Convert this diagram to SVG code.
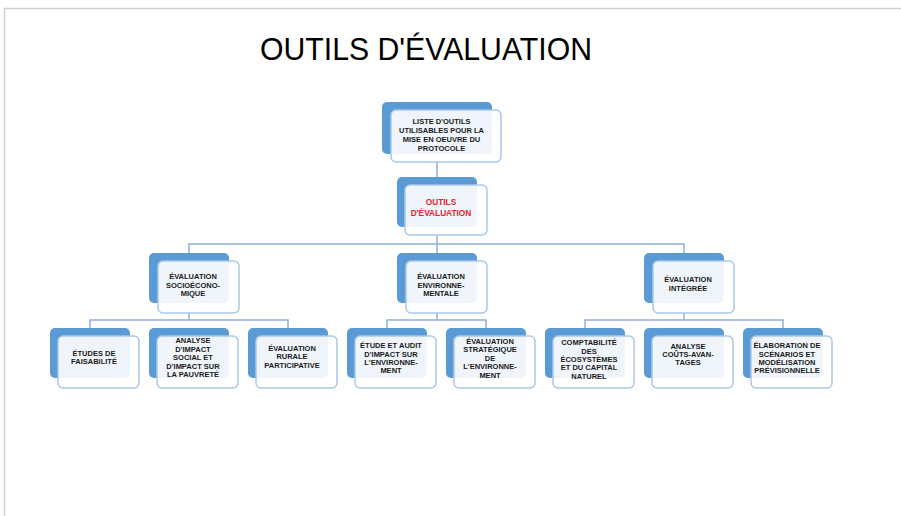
<svg xmlns="http://www.w3.org/2000/svg" width="901" height="516" viewBox="0 0 901 516">
<style>
.frame{stroke:#d0d0d0;stroke-width:1.5;fill:none}
.title{font-family:"Liberation Sans",Arial,sans-serif;font-size:31px;fill:#000}
.conn{stroke:#8eb0dc;stroke-width:1.5;fill:none}
.back{fill:#5b9bd5}
.front{fill:#ffffff;fill-opacity:0.9;stroke:#a9c8ea;stroke-width:1.5}
.t{font-family:"Liberation Sans",Arial,sans-serif;font-weight:bold;font-size:7.5px;fill:#1a1a1a;text-anchor:middle}
.red{font-family:"Liberation Sans",Arial,sans-serif;font-weight:bold;font-size:8.3px;fill:#e8202a;text-anchor:middle}
</style>
<rect width="901" height="516" fill="#ffffff"/>
<path class="frame" d="M4.5 516 V8.5 H901"/>
<text class="title" x="426" y="60" text-anchor="middle" textLength="332" lengthAdjust="spacingAndGlyphs">OUTILS D'ÉVALUATION</text>

<g id="connectors">
<path class="conn" d="M437 162 V177"/>
<path class="conn" d="M437 235 V253"/>
<path class="conn" d="M189 253 V244 H684 V253"/>
<path class="conn" d="M189 313 V320"/>
<path class="conn" d="M90 328 V320 H288 V328"/>
<path class="conn" d="M437 313 V320"/>
<path class="conn" d="M387 328 V320 H486 V328"/>
<path class="conn" d="M684 313 V320"/>
<path class="conn" d="M585 328 V320 H783 V328"/>
</g>

<g id="n-liste">
<rect class="back" x="382" y="102" width="110" height="52" rx="5"/>
<rect class="front" x="391" y="110" width="110" height="52" rx="5"/>
<text class="t" x="441.5" y="124">LISTE D'OUTILS</text>
<text class="t" x="441.5" y="133">UTILISABLES POUR LA</text>
<text class="t" x="441.5" y="142">MISE EN OEUVRE DU</text>
<text class="t" x="441.5" y="151">PROTOCOLE</text>
</g>

<g id="n-outils">
<rect class="back" x="397" y="177" width="80" height="50" rx="5"/>
<rect class="front" x="405" y="185" width="82" height="50" rx="5"/>
<text class="red" x="441" y="205">OUTILS</text>
<text class="red" x="441" y="216">D'ÉVALUATION</text>
</g>

<g id="n-socio">
<rect class="back" x="149" y="253" width="80" height="50" rx="5"/>
<rect class="front" x="158" y="261" width="81" height="52" rx="5"/>
<text class="t" x="193" y="279">ÉVALUATION</text>
<text class="t" x="193" y="287.5">SOCIOÉCONO-</text>
<text class="t" x="193" y="296">MIQUE</text>
</g>

<g id="n-env">
<rect class="back" x="397" y="253" width="80" height="50" rx="5"/>
<rect class="front" x="406" y="261" width="81" height="52" rx="5"/>
<text class="t" x="441" y="279">ÉVALUATION</text>
<text class="t" x="441" y="287.5">ENVIRONNE-</text>
<text class="t" x="441" y="296">MENTALE</text>
</g>

<g id="n-integree">
<rect class="back" x="644" y="253" width="80" height="50" rx="5"/>
<rect class="front" x="653" y="261" width="81" height="52" rx="5"/>
<text class="t" x="688" y="282">ÉVALUATION</text>
<text class="t" x="688" y="291">INTÉGRÉE</text>
</g>

<g id="n-faisabilite">
<rect class="back" x="50" y="328" width="80" height="50" rx="5"/>
<rect class="front" x="58" y="336" width="81" height="52" rx="5"/>
<text class="t" x="94" y="356">ÉTUDES DE</text>
<text class="t" x="94" y="364.4">FAISABILITÉ</text>
</g>

<g id="n-impact-social">
<rect class="back" x="149" y="328" width="80" height="50" rx="5"/>
<rect class="front" x="157" y="336" width="81" height="52" rx="5"/>
<text class="t" x="193" y="343.4">ANALYSE</text>
<text class="t" x="193" y="351.8">D'IMPACT</text>
<text class="t" x="193" y="360.2">SOCIAL ET</text>
<text class="t" x="193" y="368.6">D'IMPACT SUR</text>
<text class="t" x="193" y="377">LA PAUVRETÉ</text>
</g>

<g id="n-rurale">
<rect class="back" x="248" y="328" width="80" height="50" rx="5"/>
<rect class="front" x="256" y="336" width="81" height="52" rx="5"/>
<text class="t" x="292" y="351">ÉVALUATION</text>
<text class="t" x="292" y="359.4">RURALE</text>
<text class="t" x="292" y="367.8">PARTICIPATIVE</text>
</g>

<g id="n-eie">
<rect class="back" x="347" y="328" width="80" height="50" rx="5"/>
<rect class="front" x="355" y="336" width="81" height="52" rx="5"/>
<text class="t" x="391" y="348.2">ÉTUDE ET AUDIT</text>
<text class="t" x="391" y="356.6">D'IMPACT SUR</text>
<text class="t" x="391" y="365">L'ENVIRONNE-</text>
<text class="t" x="391" y="373.4">MENT</text>
</g>

<g id="n-ese">
<rect class="back" x="446" y="328" width="80" height="50" rx="5"/>
<rect class="front" x="454" y="336" width="81" height="52" rx="5"/>
<text class="t" x="490" y="344">ÉVALUATION</text>
<text class="t" x="490" y="352.4">STRATÉGIQUE</text>
<text class="t" x="490" y="360.8">DE</text>
<text class="t" x="490" y="369.2">L'ENVIRONNE-</text>
<text class="t" x="490" y="377.6">MENT</text>
</g>

<g id="n-comptabilite">
<rect class="back" x="545" y="328" width="80" height="50" rx="5"/>
<rect class="front" x="553" y="336" width="81" height="52" rx="5"/>
<text class="t" x="589" y="345.2">COMPTABILITÉ</text>
<text class="t" x="589" y="353.6">DES</text>
<text class="t" x="589" y="362">ÉCOSYSTÈMES</text>
<text class="t" x="589" y="370.4">ET DU CAPITAL</text>
<text class="t" x="589" y="378.8">NATUREL</text>
</g>

<g id="n-couts">
<rect class="back" x="644" y="328" width="80" height="50" rx="5"/>
<rect class="front" x="652" y="336" width="81" height="52" rx="5"/>
<text class="t" x="688" y="349.4">ANALYSE</text>
<text class="t" x="688" y="357.4">COÛTS-AVAN-</text>
<text class="t" x="688" y="365.4">TAGES</text>
</g>

<g id="n-scenarios">
<rect class="back" x="743" y="328" width="80" height="50" rx="5"/>
<rect class="front" x="751" y="336" width="81" height="52" rx="5"/>
<text class="t" x="787" y="348.2">ÉLABORATION DE</text>
<text class="t" x="787" y="356.6">SCÉNARIOS ET</text>
<text class="t" x="787" y="365">MODÉLISATION</text>
<text class="t" x="787" y="373.4">PRÉVISIONNELLE</text>
</g>
</svg>
